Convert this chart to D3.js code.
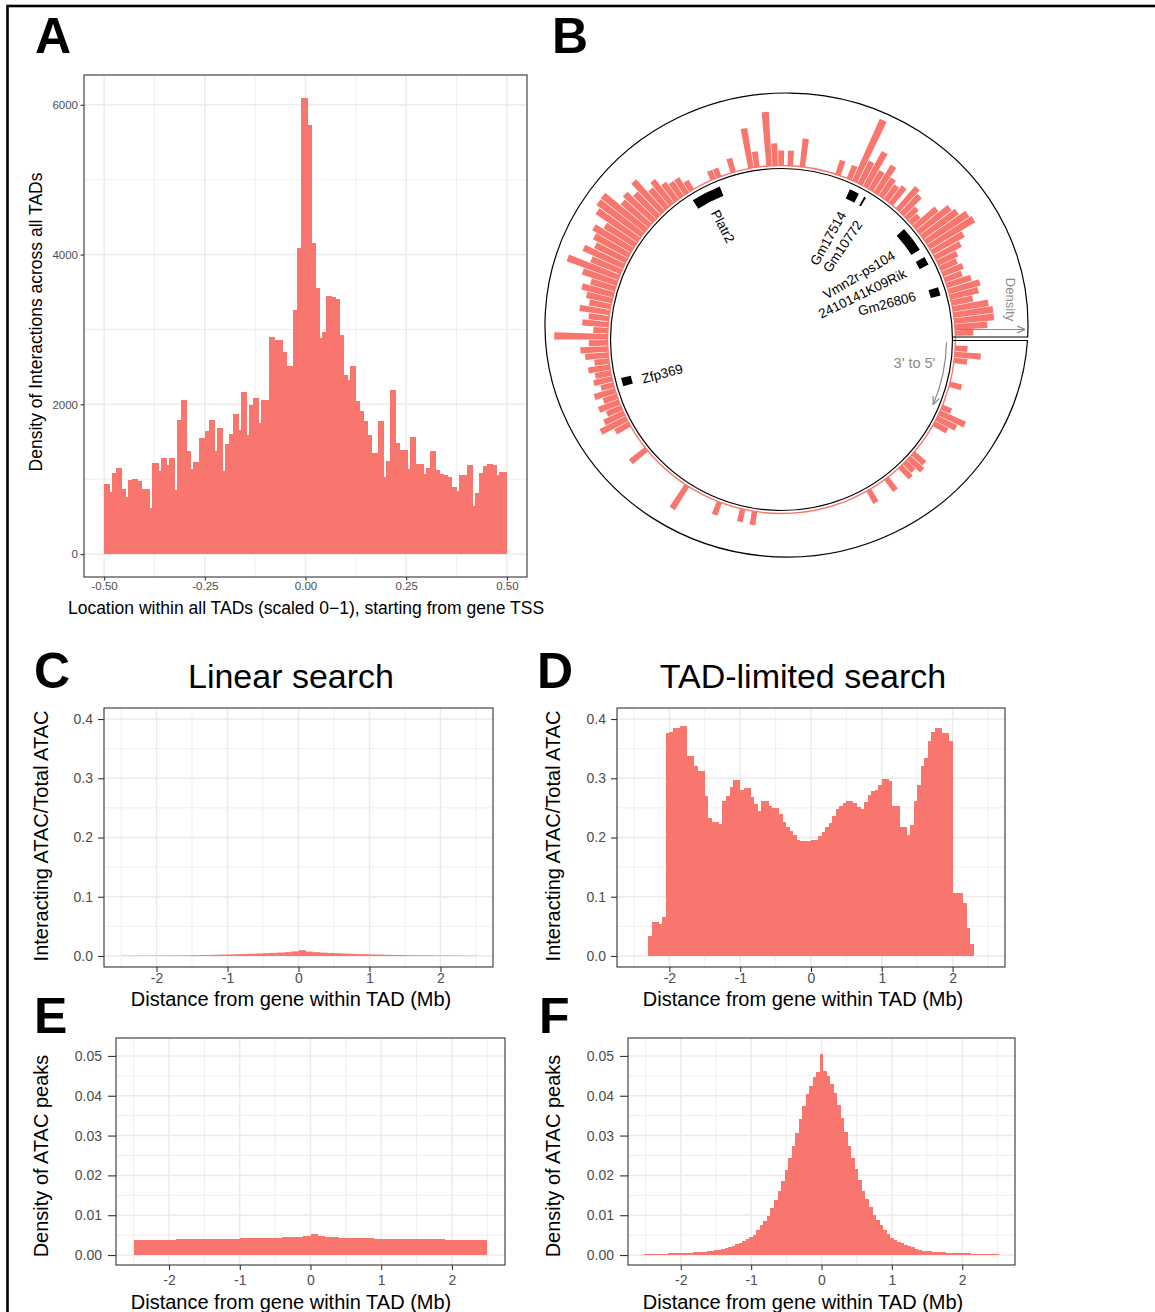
<!DOCTYPE html>
<html>
<head>
<meta charset="utf-8">
<script src="https://cdn.jsdelivr.net/npm/d3@7"></script>
<style>
  body { margin: 0; background: #fff; }
  svg text { font-family: "Liberation Sans", Arial, Helvetica, sans-serif; }
</style>
</head>
<body>
<svg id="fig" width="1155" height="1312"></svg>
<script>
// ---------------- data ----------------
// A: interactions across all TADs, 200 bins of width 0.005 from -0.5 to 0.5
const tadBinStart = -0.5, tadBinWidth = 0.005;
const tadDensity = [
  933, 933, 933, 827, 1089, 1089, 1151, 1151, 1151, 867,
  867, 760, 995, 995, 1000, 1000, 1000, 982, 982, 867,
  867, 867, 867, 618, 1213, 1213, 1213, 1107, 1284, 1284,
  1284, 1187, 1289, 1289, 1289, 862, 1787, 1787, 2053, 2053,
  2053, 1373, 1373, 1138, 1227, 1227, 1227, 1551, 1551, 1551,
  1640, 1640, 1795, 1795, 1795, 1373, 1684, 1684, 1684, 1107,
  1471, 1471, 1604, 1604, 1871, 1871, 1871, 1653, 2160, 2160,
  2160, 1587, 1995, 1995, 2089, 2089, 2089, 1755, 2053, 2053,
  2053, 2053, 2897, 2897, 2897, 2862, 2853, 2853, 2853, 2698,
  2698, 2511, 2511, 2511, 3262, 3262, 4083, 4083, 6092, 6092,
  6092, 5725, 5725, 4161, 4161, 3555, 3555, 2889, 2964, 2964,
  3453, 3453, 3453, 3431, 3431, 3409, 3409, 2929, 2929, 2395,
  2395, 2329, 2511, 2511, 2511, 2040, 2040, 1911, 1911, 1773,
  1773, 1595, 1595, 1351, 1351, 1351, 1778, 1778, 1778, 1031,
  1240, 1240, 2195, 2195, 2195, 1489, 1489, 1387, 1387, 1387,
  1387, 1142, 1564, 1564, 1564, 1209, 1209, 1209, 1209, 1075,
  1151, 1151, 1378, 1378, 1378, 1120, 1120, 1075, 1075, 1053,
  1053, 1031, 1031, 898, 898, 844, 1062, 1062, 1062, 1062,
  1195, 1195, 1195, 644, 822, 822, 1084, 1084, 1178, 1178,
  1209, 1209, 1209, 1195, 1195, 1053, 1098, 1098, 1098, 1098
];
const tadXTicks = [-0.5, -0.25, 0, 0.25, 0.5];
const tadYTicks = [0, 2000, 4000, 6000];

// B: interaction density along the TAD (degrees clockwise from the sector start) and gene models
const densityPos = [
  2, 4, 6, 14, 22, 24, 26, 28, 40, 42, 44, 46, 52, 59,
  98, 102, 110, 122,
  140, 150, 152, 154, 156, 158, 160, 162, 164, 166, 168, 170, 172, 174, 176, 178, 180, 182, 184,
  186, 188, 190, 192, 194, 196, 198, 200, 202, 204, 206, 208, 210, 212, 214, 216, 218, 220, 222, 224,
  226, 228, 230, 232, 234, 236, 238, 246, 248, 253, 259, 261, 265, 267, 269, 272, 276,
  288, 292, 294, 296, 298, 300, 302, 304, 306, 308, 311, 313, 315, 317, 319, 321, 323, 325, 327,
  329, 331, 333, 335, 337, 339, 341, 343, 345, 347, 349, 351, 353, 355, 357
];
const densityVal = [
  .17, .36, .18, .17, .14, .39, .30, .21, .21, .25, .17, .21, .21, .20,
  .19, .18, .19, .38,
  .28, .22, .40, .30, .22, .30, .20, .30, .18, .26, .22, .30, .20, .32, .38, .26, .74, .20, .36,
  .28, .42, .30, .36, .45, .35, .50, .76, .45, .61, .48, .55, .62, .50, .70, .76, .77, .50, .55, .45,
  .59, .35, .42, .30, .25, .25, .15, .13, .13, .20, .56, .22, .75, .31, .21, .21, .39,
  .21, .20, .94, .35, .55, .30, .45, .30, .25, .30, .41, .35, .20, .15, .40, .55, .60, .70, .73,
  .50, .40, .30, .25, .30, .25, .35, .45, .40, .30, .50, .55, .55, .45, .25
];
const geneNames = ["Platr2", "Gm17514", "Gm10772", "Vmn2r-ps104", "2410141K09Rik", "Gm26806", "Zfp369"];
const geneStart = [237.5, 294.5, 300.1, 318, 330, 341.5, 163.5];
const geneEnd   = [248,   298,   300.8, 327, 333, 344.5, 166.5];
const geneLabelPos = [242.5, 295.7, 303.5, 322.8, 331.7, 342.1, 164.1];
const geneLabelRot = [62, -61, -56, -31, -26, -15, -15];

// C/D: interacting ATAC / total ATAC
const linearBinStart = -2.5, linearBinWidth = 0.1;
const linearRatio = [
  0.0004, 0.0004, 0.0005, 0.0005, 0.0006, 0.0007, 0.0008, 0.0009, 0.001, 0.0012,
  0.0014, 0.0016, 0.0018, 0.0021, 0.0024, 0.0027, 0.003, 0.0034, 0.0038, 0.0042,
  0.0047, 0.0052, 0.0058, 0.0065, 0.0078, 0.0098, 0.0075, 0.0064, 0.0057, 0.0051,
  0.0046, 0.0041, 0.0037, 0.0033, 0.003, 0.0026, 0.0023, 0.002, 0.0018, 0.0016,
  0.0014, 0.0012, 0.0011, 0.001, 0.0009, 0.0008, 0.0007, 0.0006, 0.0005, 0.0004
];
const tadBinStartD = -2.3, tadBinWidthD = 0.05;
const tadRatio = [
  0.033, 0.0575, 0.0575, 0.054, 0.065, 0.376, 0.378, 0.385, 0.385, 0.389,
  0.389, 0.338, 0.338, 0.32, 0.313, 0.313, 0.27, 0.233, 0.227, 0.227,
  0.2225, 0.261, 0.27, 0.286, 0.297, 0.297, 0.281, 0.283, 0.283, 0.269,
  0.257, 0.245, 0.261, 0.261, 0.2535, 0.25, 0.25, 0.239, 0.227, 0.217,
  0.211, 0.2045, 0.196, 0.1944, 0.1944, 0.1944, 0.196, 0.196, 0.203, 0.21,
  0.217, 0.225, 0.236, 0.248, 0.253, 0.258, 0.261, 0.261, 0.258, 0.252,
  0.248, 0.26, 0.272, 0.279, 0.28, 0.288, 0.299, 0.299, 0.296, 0.254,
  0.254, 0.2175, 0.2175, 0.2045, 0.221, 0.262, 0.288, 0.321, 0.334, 0.363,
  0.3775, 0.384, 0.384, 0.376, 0.376, 0.363, 0.107, 0.107, 0.107, 0.09,
  0.048, 0.0197
];
const ratioYTicks = [0, 0.1, 0.2, 0.3, 0.4];
const mbTicks = [-2, -1, 0, 1, 2];

// E/F: density of ATAC peaks
const linearPeakStart = -2.5, linearPeakWidth = 0.1;
const linearPeakDensity = [
  0.0038, 0.00382, 0.00384, 0.00386, 0.00388, 0.0039, 0.00392, 0.00395, 0.00398, 0.004,
  0.00403, 0.00406, 0.00409, 0.00412, 0.00415, 0.00418, 0.00422, 0.00426, 0.0043, 0.00434,
  0.00438, 0.00442, 0.00447, 0.00455, 0.0048, 0.0054, 0.0049, 0.00455, 0.00445, 0.0044,
  0.00432, 0.00427, 0.00422, 0.00418, 0.00415, 0.00412, 0.00409, 0.00406, 0.00403, 0.004,
  0.00398, 0.00396, 0.00394, 0.00392, 0.0039, 0.00388, 0.00386, 0.00384, 0.00382, 0.0038
];
const tadPeakStart = -2.525, tadPeakWidth = 0.05;
const tadPeakDensity = [
  0.0002, 0.0002, 0.00025, 0.00025, 0.0003, 0.0003, 0.00035, 0.0004, 0.0004, 0.00045,
  0.0005, 0.00055, 0.0006, 0.0006, 0.00065, 0.0007, 0.00075, 0.0008, 0.0009, 0.001,
  0.0012, 0.0013, 0.0015, 0.0017, 0.002, 0.0023, 0.0027, 0.0031, 0.0035, 0.004,
  0.0045, 0.005, 0.0062, 0.0075, 0.0086, 0.0098, 0.0118, 0.0138, 0.0162, 0.0186,
  0.0214, 0.0243, 0.0275, 0.0306, 0.0342, 0.0375, 0.0404, 0.0425, 0.0448, 0.046,
  0.0504,
  0.0461, 0.0449, 0.043, 0.0407, 0.0378, 0.0345, 0.0309, 0.0273, 0.0244, 0.0215,
  0.0188, 0.0162, 0.014, 0.012, 0.01, 0.0088, 0.0076, 0.0064, 0.0052, 0.0044,
  0.0039, 0.0034, 0.003, 0.0026, 0.0022, 0.0019, 0.0016, 0.0013, 0.0011, 0.001,
  0.0009, 0.0008, 0.00075, 0.0007, 0.00065, 0.0006, 0.00055, 0.0005, 0.0005, 0.00045,
  0.0004, 0.0004, 0.00035, 0.0003, 0.0003, 0.00025, 0.00025, 0.0002, 0.0002, 0.0002
];
const peakYTicks = [0, 0.01, 0.02, 0.03, 0.04, 0.05];

// ---------------- drawing ----------------
const FILL = "#F8766D";
const FONT = "'Liberation Sans', Arial, Helvetica, sans-serif";
const svg = d3.select("#fig");

function toBins(start, width, values) {
  return values.map((v, i) => ({ x0: start + i * width, x1: start + (i + 1) * width, v }));
}
function midpoints(ticks) {
  const out = [];
  for (let i = 0; i < ticks.length - 1; i++) out.push((ticks[i] + ticks[i + 1]) / 2);
  return out;
}

// ggplot2 theme_bw style histogram panel
function histPanel(cfg) {
  const x = d3.scaleLinear().domain(cfg.xDomain).range([cfg.left, cfg.right]);
  const y = d3.scaleLinear().domain(cfg.yDomain).range([cfg.bottom, cfg.top]);
  const g = svg.append("g");
  const W = cfg.right - cfg.left, H = cfg.bottom - cfg.top;
  g.append("rect").attr("x", cfg.left).attr("y", cfg.top).attr("width", W).attr("height", H).attr("fill", "#fff");

  const grid = g.append("g");
  const vline = (sel, w) => sel.attr("x1", d => x(d)).attr("x2", d => x(d))
    .attr("y1", cfg.top).attr("y2", cfg.bottom).attr("stroke", "#ebebeb").attr("stroke-width", w);
  const hline = (sel, w) => sel.attr("y1", d => y(d)).attr("y2", d => y(d))
    .attr("x1", cfg.left).attr("x2", cfg.right).attr("stroke", "#ebebeb").attr("stroke-width", w);
  grid.selectAll(null).data(cfg.xMinor).join("line").call(vline, 0.8);
  grid.selectAll(null).data(cfg.yMinor).join("line").call(hline, 0.8);
  grid.selectAll(null).data(cfg.xTicks).join("line").call(vline, 1.5);
  grid.selectAll(null).data(cfg.yTicks).join("line").call(hline, 1.5);

  // very flat histograms keep anti-aliasing so sub-pixel bars stay faintly visible
  const bars = g.append("g");
  if (cfg.crisp !== false) bars.attr("shape-rendering", "crispEdges");
  bars.selectAll("rect").data(cfg.bins).join("rect")
    .attr("x", d => x(d.x0))
    .attr("width", d => Math.max(0, x(d.x1) - x(d.x0)) + (cfg.crisp === false ? 0.3 : 0))
    .attr("y", d => y(d.v))
    .attr("height", d => Math.max(0, y(0) - y(d.v)))
    .attr("fill", FILL);

  g.append("rect").attr("x", cfg.left).attr("y", cfg.top).attr("width", W).attr("height", H)
    .attr("fill", "none").attr("stroke", "#333").attr("stroke-width", 1.1);

  const xa = g.append("g").attr("transform", `translate(0,${cfg.bottom})`)
    .call(d3.axisBottom(x).tickValues(cfg.xTicks).tickFormat(cfg.xFmt).tickSize(cfg.xTickLen).tickPadding(cfg.xPad));
  const ya = g.append("g").attr("transform", `translate(${cfg.left},0)`)
    .call(d3.axisLeft(y).tickValues(cfg.yTicks).tickFormat(cfg.yFmt).tickSize(cfg.yTickLen).tickPadding(cfg.yPad));
  [xa, ya].forEach(a => {
    a.attr("font-family", FONT).attr("font-size", cfg.tickFont);
    a.select(".domain").remove();
    a.selectAll(".tick line").attr("stroke", "#333").attr("stroke-width", 1.1);
    a.selectAll(".tick text").attr("fill", "#4d4d4d");
  });

  // axis titles
  svg.append("text").attr("x", cfg.xTitleX).attr("y", cfg.xTitleY)
    .attr("text-anchor", "middle").attr("font-size", cfg.titleFont).attr("fill", "#000")
    .text(cfg.xTitle);
  svg.append("text")
    .attr("transform", `translate(${cfg.yTitleX},${cfg.yTitleY}) rotate(-90)`)
    .attr("text-anchor", "middle").attr("dominant-baseline", "central")
    .attr("font-size", cfg.titleFont).attr("fill", "#000")
    .text(cfg.yTitle);
  return { x, y };
}

// figure frame
svg.append("rect").attr("x", 7.5).attr("y", 6).attr("width", 1170).attr("height", 1330)
  .attr("fill", "none").attr("stroke", "#000").attr("stroke-width", 2.6);

// panel letters
const letters = [["A", 35, 53], ["B", 552, 53], ["C", 34, 688], ["D", 537, 688], ["E", 34, 1033], ["F", 539, 1033]];
svg.selectAll("text.letter").data(letters).join("text").attr("class", "letter")
  .attr("x", d => d[1]).attr("y", d => d[2]).attr("font-size", 50).attr("font-weight", "bold")
  .attr("fill", "#000").text(d => d[0]);

// ---- A ----
histPanel({
  left: 84, right: 527, top: 75, bottom: 577,
  xDomain: [-0.55, 0.55], yDomain: [-305, 6398],
  xTicks: tadXTicks, xMinor: midpoints(tadXTicks),
  yTicks: tadYTicks, yMinor: [1000, 3000, 5000],
  xFmt: d => d.toFixed(2), yFmt: d => String(d),
  bins: toBins(tadBinStart, tadBinWidth, tadDensity),
  tickFont: 11.5, xTickLen: 3.5, xPad: 1.5, yTickLen: 3.5, yPad: 2.5,
  titleFont: 17.5,
  xTitle: "Location within all TADs (scaled 0\u22121), starting from gene TSS", xTitleX: 306, xTitleY: 614,
  yTitle: "Density of Interactions across all TADs", yTitleX: 36, yTitleY: 322
});

// ---- C / D ----
const cdCommon = {
  top: 708, bottom: 967,
  xDomain: [-2.74, 2.74], yDomain: [-0.0186, 0.4186],
  xTicks: mbTicks, xMinor: [-2.5, -1.5, -0.5, 0.5, 1.5, 2.5],
  yTicks: ratioYTicks, yMinor: midpoints(ratioYTicks),
  xFmt: d => String(d), yFmt: d => d.toFixed(1),
  tickFont: 14, xTickLen: 5, xPad: 1.5, yTickLen: 6, yPad: 5, titleFont: 20,
  xTitle: "Distance from gene within TAD (Mb)", xTitleY: 1006,
  yTitle: "Interacting ATAC/Total ATAC", yTitleY: 836
};
histPanel(Object.assign({}, cdCommon, {
  left: 104, right: 493, bins: toBins(linearBinStart, linearBinWidth, linearRatio),
  crisp: false, xTitleX: 291, yTitleX: 41
}));
histPanel(Object.assign({}, cdCommon, {
  left: 617, right: 1005, bins: toBins(tadBinStartD, tadBinWidthD, tadRatio),
  xTitleX: 803, yTitleX: 553
}));
svg.append("text").attr("x", 291).attr("y", 688).attr("text-anchor", "middle")
  .attr("font-size", 34).attr("fill", "#000").text("Linear search");
svg.append("text").attr("x", 803).attr("y", 688).attr("text-anchor", "middle")
  .attr("font-size", 34).attr("fill", "#000").text("TAD-limited search");

// ---- E / F ----
const efCommon = {
  top: 1038, bottom: 1265,
  xDomain: [-2.75, 2.75], yDomain: [-0.0025, 0.0545],
  xTicks: mbTicks, xMinor: [-2.5, -1.5, -0.5, 0.5, 1.5, 2.5],
  yTicks: peakYTicks, yMinor: midpoints(peakYTicks),
  xFmt: d => String(d), yFmt: d => d.toFixed(2),
  tickFont: 14, xTickLen: 5, xPad: 5, yTickLen: 8, yPad: 6, titleFont: 20,
  xTitle: "Distance from gene within TAD (Mb)", xTitleY: 1309,
  yTitle: "Density of ATAC peaks", yTitleY: 1156
};
histPanel(Object.assign({}, efCommon, {
  left: 116, right: 505, bins: toBins(linearPeakStart, linearPeakWidth, linearPeakDensity),
  xTitleX: 291, yTitleX: 41
}));
histPanel(Object.assign({}, efCommon, {
  left: 628, right: 1015, bins: toBins(tadPeakStart, tadPeakWidth, tadPeakDensity),
  xTitleX: 803, yTitleX: 553
}));

// ---- B: circular track ----
const C = { cx: 781.5, cy: 339.5, rIn: 171, rBase: 174, rMax: 246 };
const OUTER = { cx: 786.5, cy: 325, rx: 241.5, ry: 232, yTop: 337, yBot: 340.5 };
const rad = deg => (deg + 90) * Math.PI / 180;   // clockwise from 3 o'clock -> d3.arc angle
const bG = svg.append("g").attr("transform", `translate(${C.cx},${C.cy})`);
const rScale = d3.scaleLinear().domain([0, 1]).range([C.rBase, C.rMax]);
const arc = d3.arc();
const barW = 1.8;

// baseline of the density bars
bG.append("circle").attr("r", C.rBase).attr("fill", "none").attr("stroke", FILL).attr("stroke-width", 1.4);
// density bars
bG.selectAll("path.bar").data(densityPos.map((p, i) => ({ p, v: densityVal[i] }))).join("path")
  .attr("class", "bar")
  .attr("d", d => arc({ innerRadius: C.rBase, outerRadius: rScale(d.v), startAngle: rad(d.p), endAngle: rad(d.p + barW) }))
  .attr("fill", FILL);

// track border: inner circle, outer rim and the two edges of the sector gap
(function () {
  const ex = y => OUTER.cx + OUTER.rx * Math.sqrt(1 - Math.pow((y - OUTER.cy) / OUTER.ry, 2));
  const ix = y => C.cx + Math.sqrt(C.rIn * C.rIn - Math.pow(y - C.cy, 2));
  const b = svg.append("g").attr("fill", "none").attr("stroke", "#000").attr("stroke-width", 1.2);
  b.append("circle").attr("cx", C.cx).attr("cy", C.cy).attr("r", C.rIn);
  const p = `M${ix(OUTER.yBot)},${OUTER.yBot} L${ex(OUTER.yBot)},${OUTER.yBot} ` +
    `A${OUTER.rx},${OUTER.ry} 0 1 1 ${ex(OUTER.yTop)},${OUTER.yTop} L${ix(OUTER.yTop)},${OUTER.yTop}`;
  b.append("path").attr("d", p);
})();

// gene models
bG.selectAll("path.gene").data(geneNames.map((n, i) => ({ n, s: geneStart[i], e: geneEnd[i] }))).join("path")
  .attr("class", "gene")
  .attr("d", d => arc({ innerRadius: 155, outerRadius: 165, startAngle: rad(d.s), endAngle: rad(d.e) }))
  .attr("fill", "#000");
// gene labels
bG.selectAll("text.gene").data(geneNames.map((n, i) => ({ n, a: geneLabelPos[i], rot: geneLabelRot[i] }))).join("text")
  .attr("class", "gene")
  .attr("transform", d => {
    const inward = d.a > 90 && d.a < 270;
    const r = inward ? 145 : 141, t = d.a * Math.PI / 180;
    return `translate(${r * Math.cos(t)},${r * Math.sin(t)}) rotate(${d.rot})`;
  })
  .attr("text-anchor", d => (d.a > 90 && d.a < 270) ? "start" : "end")
  .attr("dominant-baseline", "central")
  .attr("font-size", 13.5).attr("fill", "#000")
  .text(d => d.n);

// axis hints: density direction and strand direction
const grey = "#8a8a8a";
const defs = svg.append("defs");
defs.append("marker").attr("id", "arrowhead").attr("viewBox", "0 0 10 10")
  .attr("refX", 9).attr("refY", 5).attr("markerWidth", 7).attr("markerHeight", 7).attr("orient", "auto")
  .append("path").attr("d", "M0,1 L10,5 L0,9").attr("fill", "none").attr("stroke", grey).attr("stroke-width", 1.4);
bG.append("line").attr("x1", C.rBase).attr("x2", C.rMax - 3).attr("y1", -10).attr("y2", -10)
  .attr("stroke", grey).attr("stroke-width", 1.2).attr("marker-end", "url(#arrowhead)");
bG.append("text").attr("transform", `translate(${C.rMax - 17},-40) rotate(90)`)
  .attr("text-anchor", "middle").attr("dominant-baseline", "central")
  .attr("font-size", 13).attr("fill", grey).text("Density");
const strand = d3.path();
strand.arc(0, 0, 165, 1 * Math.PI / 180, 23 * Math.PI / 180);
bG.append("path").attr("d", strand.toString())
  .attr("fill", "none").attr("stroke", grey).attr("stroke-width", 1.2).attr("marker-end", "url(#arrowhead)");
bG.append("text").attr("x", 133).attr("y", 23).attr("text-anchor", "middle")
  .attr("dominant-baseline", "central").attr("font-size", 14.5).attr("fill", grey).text("3' to 5'");
</script>
</body>
</html>
